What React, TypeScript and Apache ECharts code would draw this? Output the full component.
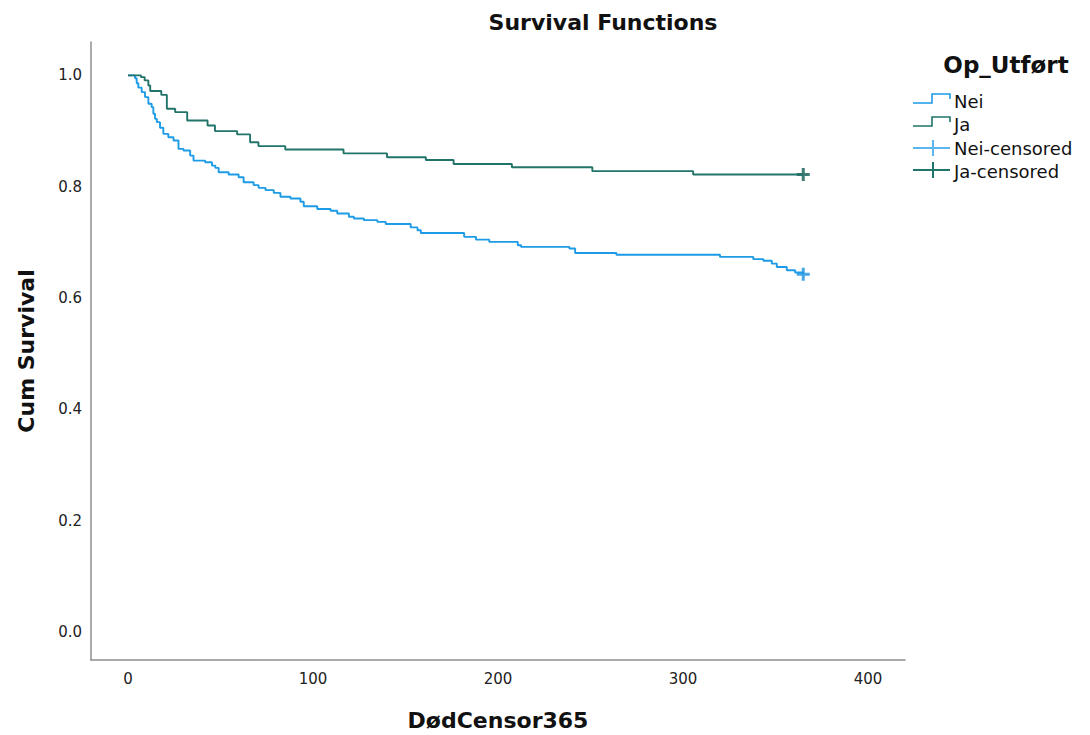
import React, { useEffect, useRef } from "react";
import * as echarts from "echarts";

const titleText = "Survival Functions";
const xAxisName = "DødCensor365";
const yAxisName = "Cum Survival";
const legendTitle = "Op_Utført";
const legendNames = ["Nei", "Ja", "Nei-censored", "Ja-censored"];

const xTicks = [0, 100, 200, 300, 400];
const yTicks = [0, 0.2, 0.4, 0.6, 0.8, 1.0];

const neiTimes = [0, 3.8, 4.7, 5.6, 7.4, 9.2, 11, 12.8, 13.7, 14.6, 15.6, 17.3, 19.1, 21.8, 24.6, 27.3, 30, 33.6, 35.4, 41.7, 45.4, 47.2, 49, 54.4, 59.8, 62.5, 67.9, 70.6, 74.3, 78.8, 82.4, 87.8, 93.2, 95, 102.3, 109.5, 113.1, 119.4, 122.1, 127.5, 134.8, 139.3, 152.8, 156.5, 158.3, 181.7, 188.1, 195.3, 210.7, 212.5, 238.6, 241.7, 264, 320, 338, 343.5, 348, 350.7, 356.1, 360.6, 365];
const neiSurv = [1.0, 0.995, 0.986, 0.978, 0.970, 0.961, 0.949, 0.943, 0.931, 0.922, 0.916, 0.906, 0.895, 0.889, 0.883, 0.868, 0.865, 0.856, 0.847, 0.844, 0.838, 0.834, 0.826, 0.822, 0.817, 0.808, 0.803, 0.798, 0.794, 0.789, 0.782, 0.779, 0.773, 0.765, 0.760, 0.757, 0.752, 0.746, 0.743, 0.740, 0.737, 0.733, 0.727, 0.722, 0.717, 0.710, 0.705, 0.701, 0.695, 0.692, 0.689, 0.681, 0.678, 0.674, 0.670, 0.667, 0.662, 0.656, 0.650, 0.646, 0.643];

const jaTimes = [0, 7, 9, 11, 12, 18, 21, 25.5, 32, 43, 47, 59, 66, 70.5, 85, 116.5, 140, 161, 176, 207.5, 251, 305.5, 365];
const jaSurv = [1.0, 0.997, 0.991, 0.982, 0.972, 0.965, 0.940, 0.934, 0.919, 0.910, 0.900, 0.894, 0.880, 0.873, 0.867, 0.860, 0.853, 0.848, 0.841, 0.835, 0.828, 0.822, 0.822];

const neiCensored = [[365, 0.643]];
const jaCensored = [[365, 0.822]];

const NEI = "#1e9be6";
const JA = "#217469";
const NEI_C = "#1a8fe0";
const JA_C = "#0f5a52";
const NEI_LEG_C = "#5cb6ee";
const FONT = "DejaVu Sans";

const PLUS = "path://M5,0h3v5h5v3h-5v5h-3v-5h-5v-3h5z";

function zip(t: number[], s: number[]) {
  const n = Math.min(t.length, s.length);
  const out: number[][] = [];
  for (let i = 0; i < n; i++) out.push([t[i], s[i]]);
  return out;
}

function stepIcon(x: number, y: number, color: string) {
  return {
    type: "polyline",
    shape: {
      points: [
        [x, y + 5],
        [x + 19, y + 5],
        [x + 19, y - 4],
        [x + 37, y - 4],
        [x + 37, y + 1],
      ],
    },
    style: { stroke: color, lineWidth: 1.6, fill: null },
  };
}

function plusIcon(x: number, y: number, color: string) {
  return {
    type: "group",
    children: [
      { type: "line", shape: { x1: x, y1: y, x2: x + 37, y2: y }, style: { stroke: color, lineWidth: 2 } },
      { type: "line", shape: { x1: x + 20, y1: y - 8, x2: x + 20, y2: y + 8 }, style: { stroke: color, lineWidth: 2 } },
    ],
  };
}

function legendText(x: number, y: number, text: string) {
  return {
    type: "text",
    x,
    y,
    style: { text, fill: "#111", font: `18px "${FONT}"`, textVerticalAlign: "middle" },
  };
}

export default function App() {
  const ref = useRef<HTMLDivElement>(null);
  useEffect(() => {
    if (!ref.current) return;
    const chart = echarts.init(ref.current, null, { renderer: "svg" });
    const option: any = {
      animation: false,
      backgroundColor: "#ffffff",
      title: {
        text: titleText,
        left: 598,
        top: 6,
        textAlign: "center",
        textStyle: { fontFamily: FONT, fontWeight: "bold", fontSize: 22, color: "#111" },
      },
      grid: {
        left: 91,
        right: 185,
        top: 42,
        bottom: 75,
        containLabel: false,
        outerBoundsMode: "none",
      },
      xAxis: {
        type: "value",
        min: -20,
        max: 420,
        name: xAxisName,
        nameLocation: "middle",
        nameGap: 49,
        nameTextStyle: { fontFamily: FONT, fontWeight: "bold", fontSize: 22, color: "#111" },
        axisLine: { show: true, onZero: false, lineStyle: { color: "#8f8f8f", width: 1.5 } },
        axisTick: { show: false },
        splitLine: { show: false },
        axisLabel: {
          customValues: xTicks,
          margin: 11,
          fontFamily: FONT,
          fontSize: 15,
          color: "#222",
          formatter: (v: number) => String(v),
        },
      },
      yAxis: {
        type: "value",
        min: -0.05,
        max: 1.06,
        name: yAxisName,
        nameLocation: "middle",
        nameGap: 54,
        nameTextStyle: { fontFamily: FONT, fontWeight: "bold", fontSize: 22, color: "#111" },
        axisLine: { show: true, onZero: false, lineStyle: { color: "#8f8f8f", width: 1.5 } },
        axisTick: { show: false },
        splitLine: { show: false },
        axisLabel: {
          customValues: yTicks,
          margin: 9,
          fontFamily: FONT,
          fontSize: 15,
          color: "#222",
          formatter: (v: number) => v.toFixed(1),
        },
      },
      series: [
        {
          name: "Nei",
          type: "line",
          step: "end",
          showSymbol: false,
          data: zip(neiTimes, neiSurv),
          lineStyle: { color: NEI, width: 1.9 },
          itemStyle: { color: NEI },
        },
        {
          name: "Ja",
          type: "line",
          step: "end",
          showSymbol: false,
          data: zip(jaTimes, jaSurv),
          lineStyle: { color: JA, width: 1.9 },
          itemStyle: { color: JA },
        },
        {
          name: "Nei-censored",
          type: "scatter",
          symbol: PLUS,
          symbolSize: 13,
          data: neiCensored,
          itemStyle: { color: NEI_C },
        },
        {
          name: "Ja-censored",
          type: "scatter",
          symbol: PLUS,
          symbolSize: 13,
          data: jaCensored,
          itemStyle: { color: JA_C },
        },
      ],
      graphic: [
        {
          type: "text",
          x: 1006,
          y: 65,
          style: {
            text: legendTitle,
            fill: "#111",
            font: `bold 23px "${FONT}"`,
            textAlign: "center",
            textVerticalAlign: "middle",
          },
        },
        stepIcon(913, 98, NEI),
        legendText(954, 101, legendNames[0]),
        stepIcon(913, 121, JA),
        legendText(954, 124, legendNames[1]),
        plusIcon(913, 148, NEI_LEG_C),
        legendText(954, 148, legendNames[2]),
        plusIcon(913, 170, JA),
        legendText(954, 171, legendNames[3]),
      ],
    };
    chart.setOption(option);
    return () => chart.dispose();
  }, []);
  return (
    <div
      ref={ref}
      style={{ position: "fixed", left: 0, top: 0, width: 1090, height: 735, background: "#fff" }}
    />
  );
}
